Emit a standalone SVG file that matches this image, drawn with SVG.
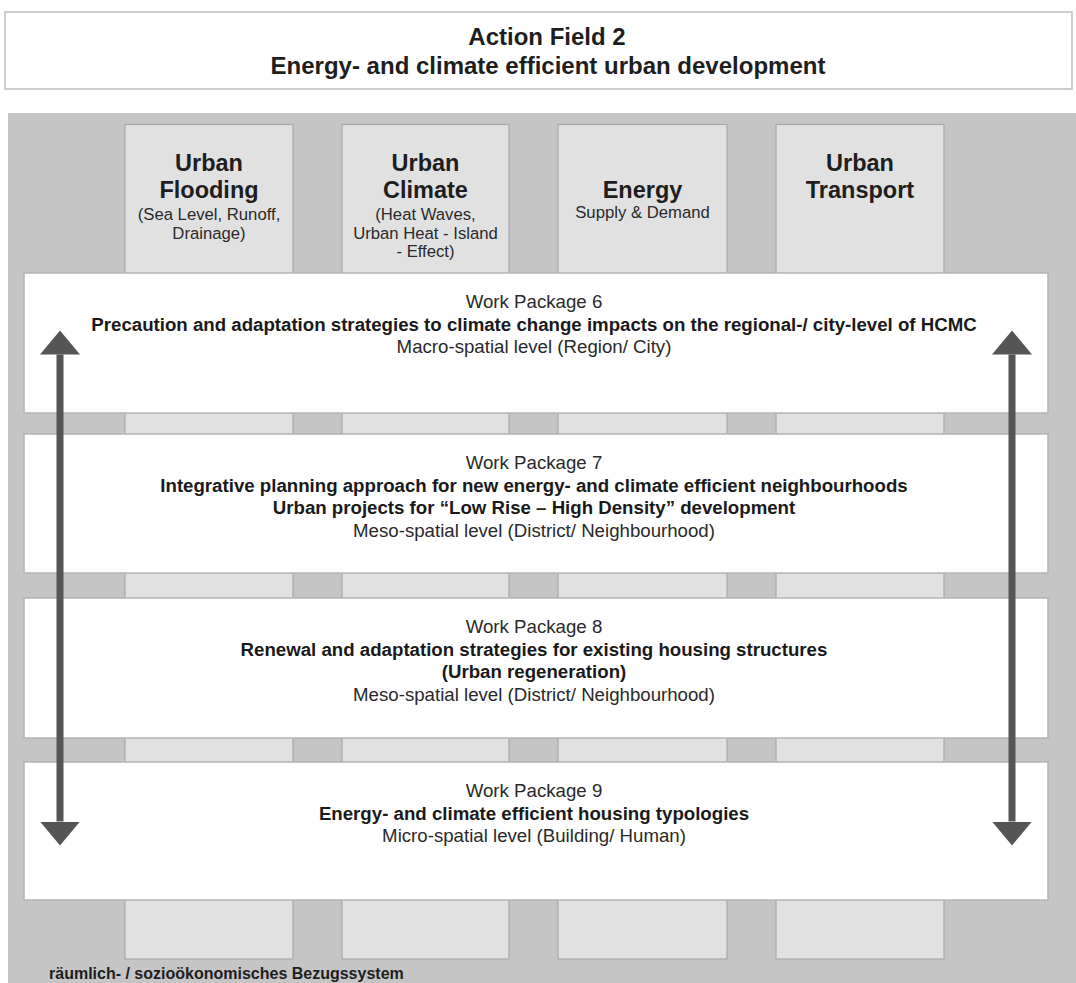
<svg xmlns="http://www.w3.org/2000/svg" width="1076" height="983" viewBox="0 0 1076 983">
  <style>
    text { font-family: "Liberation Sans", Arial, sans-serif; text-anchor: middle; }
    .title { font-size: 24px; font-weight: bold; fill: #1e1e1e; }
    .colh { font-size: 23.5px; font-weight: bold; fill: #1e1e1e; }
    .cols { font-size: 16.7px; fill: #2a2a2a; }
    .wpn { font-size: 18.67px; fill: #2a2a2a; }
    .wpb { font-size: 18.67px; font-weight: bold; fill: #1a1a1a; }
    .foot { font-size: 16px; font-weight: bold; fill: #1e1e1e; text-anchor: start; }
    .col { fill: #e1e1e1; stroke: #a9a9a9; stroke-width: 1.2; }
    .wp { fill: #ffffff; stroke: #b4b4b4; stroke-width: 1.5; }
    .arrow { stroke: #555555; stroke-width: 7; fill: none; }
  </style>
  <defs>
    <marker id="head" markerUnits="userSpaceOnUse" viewBox="0 0 24 40" refX="0" refY="20" markerWidth="24" markerHeight="40" orient="auto-start-reverse">
      <path d="M0,0 L24,20 L0,40 z" fill="#555555"/>
    </marker>
  </defs>

  <rect width="1076" height="983" fill="#ffffff"/>

  <g id="title">
    <rect x="5" y="12" width="1067" height="77" fill="#ffffff" stroke="#bdbdbd" stroke-width="1.5"/>
    <text class="title" x="547" y="45">Action Field 2</text>
    <text class="title" x="548" y="74">Energy- and climate efficient urban development</text>
  </g>

  <g id="background">
    <rect x="8" y="113" width="1070" height="872" fill="#c5c5c5"/>
  </g>

  <g id="col-flooding">
    <rect class="col" x="125" y="124.5" width="168" height="834.5"/>
    <text class="colh" x="209" y="171">Urban</text>
    <text class="colh" x="209" y="198">Flooding</text>
    <text class="cols" x="209" y="220">(Sea Level, Runoff,</text>
    <text class="cols" x="209" y="239">Drainage)</text>
  </g>
  <g id="col-climate">
    <rect class="col" x="342" y="124.5" width="167" height="834.5"/>
    <text class="colh" x="425.5" y="171">Urban</text>
    <text class="colh" x="425.5" y="198">Climate</text>
    <text class="cols" x="425.5" y="220">(Heat Waves,</text>
    <text class="cols" x="425.5" y="238.5">Urban Heat - Island</text>
    <text class="cols" x="425.5" y="257">- Effect)</text>
  </g>
  <g id="col-energy">
    <rect class="col" x="558" y="124.5" width="169" height="834.5"/>
    <text class="colh" x="642.5" y="198">Energy</text>
    <text class="cols" x="642.5" y="218">Supply &amp; Demand</text>
  </g>
  <g id="col-transport">
    <rect class="col" x="776" y="124.5" width="168" height="834.5"/>
    <text class="colh" x="860" y="171">Urban</text>
    <text class="colh" x="860" y="198">Transport</text>
  </g>

  <g id="wp6">
    <rect class="wp" x="24" y="273" width="1024" height="140"/>
    <text class="wpn" x="534" y="308">Work Package 6</text>
    <text class="wpb" x="534" y="330.5">Precaution and adaptation strategies to climate change impacts on the regional-/ city-level of HCMC</text>
    <text class="wpn" x="534" y="353">Macro-spatial level (Region/ City)</text>
  </g>
  <g id="wp7">
    <rect class="wp" x="24" y="434" width="1024" height="139"/>
    <text class="wpn" x="534" y="469">Work Package 7</text>
    <text class="wpb" x="534" y="491.5">Integrative planning approach for new energy- and climate efficient neighbourhoods</text>
    <text class="wpb" x="534" y="514">Urban projects for “Low Rise – High Density” development</text>
    <text class="wpn" x="534" y="536.5">Meso-spatial level (District/ Neighbourhood)</text>
  </g>
  <g id="wp8">
    <rect class="wp" x="24" y="598" width="1024" height="140"/>
    <text class="wpn" x="534" y="633">Work Package 8</text>
    <text class="wpb" x="534" y="655.5">Renewal and adaptation strategies for existing housing structures</text>
    <text class="wpb" x="534" y="678">(Urban regeneration)</text>
    <text class="wpn" x="534" y="700.5">Meso-spatial level (District/ Neighbourhood)</text>
  </g>
  <g id="wp9">
    <rect class="wp" x="24" y="762" width="1024" height="138"/>
    <text class="wpn" x="534" y="797">Work Package 9</text>
    <text class="wpb" x="534" y="819.5">Energy- and climate efficient housing typologies</text>
    <text class="wpn" x="534" y="842">Micro-spatial level (Building/ Human)</text>
  </g>

  <g id="connectors">
    <line class="arrow" x1="60" y1="354.5" x2="60" y2="821.5" marker-start="url(#head)" marker-end="url(#head)"/>
    <line class="arrow" x1="1012" y1="354.5" x2="1012" y2="821.5" marker-start="url(#head)" marker-end="url(#head)"/>
  </g>

  <g id="footer">
    <text class="foot" x="49" y="979">räumlich- / sozioökonomisches Bezugssystem</text>
  </g>
</svg>
